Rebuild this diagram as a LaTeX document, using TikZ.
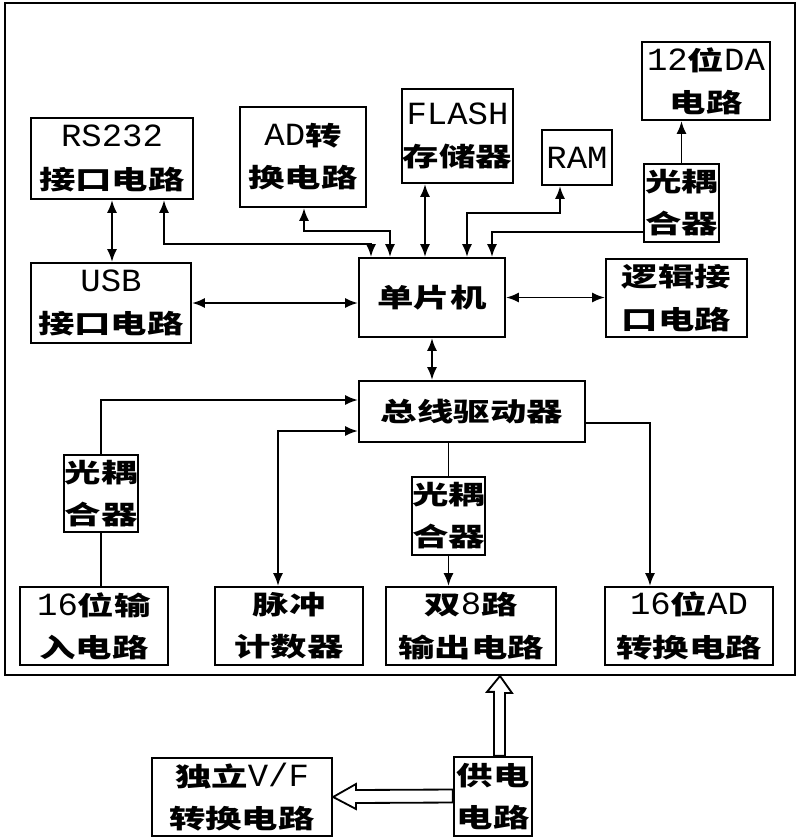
\documentclass[tikz,border=0pt]{standalone}
\usepackage{fontspec}
\newfontfamily\cjk{Noto Sans CJK SC}[FakeStretch=1.4]
\newfontfamily\latf{Liberation Mono}[FakeStretch=1.05]
\newcommand{\lat}{\latf\mdseries\fontsize{23}{30}\selectfont}
\usetikzlibrary{calc,arrows.meta}
\tikzset{
  >={Latex[length=9pt,width=7pt]},
  box/.style={draw,line width=1.6pt,fill=white,align=center,inner sep=0pt},
  link/.style={line width=1.2pt},
  hollow/.style={draw,line width=1.3pt,fill=white},
}
\tikzstyle{every node}=[font=\cjk\bfseries\fontsize{18.5}{30}\selectfont]
\newcommand{\bx}[6]{\node[box,minimum width=#4*0.025cm,minimum height=#5*0.025cm] (#1) at (#2,#3) {#6};}

\begin{document}
\begin{tikzpicture}[x=0.025cm,y=-0.025cm]
    \useasboundingbox (0,0) rectangle (800,838);
    \draw[line width=1.6pt] (5,3) rectangle (795,675);
    % top row
    \bx{da}{706}{81}{128}{78}{{\lat 12}位{\lat DA}\\电路}
    \bx{rs}{112}{158.5}{162}{81}{{\lat RS232}\\接口电路}
    \bx{adc}{303}{157}{126}{100}{{\lat AD}转\\换电路}
    \bx{flash}{457.5}{136}{111}{94}{{\lat FLASH}\\存储器}
    \bx{ram}{577}{157.5}{70}{55}{{\lat RAM}}
    \bx{oca}{681.5}{203}{75}{78}{光耦\\合器}
    % middle
    \bx{usb}{111}{303}{160}{80}{{\lat USB}\\接口电路}
    \bx{mcu}{432}{297.5}{146}{79}{单片机}
    \bx{logic}{676.5}{298}{141}{78}{逻辑接\\口电路}
    \bx{bus}{472}{411.5}{226}{61}{总线驱动器}
    \bx{ocb}{101}{493.5}{74}{77}{光耦\\合器}
    \bx{occ}{448.5}{516}{73}{78}{光耦\\合器}
    % bottom row
    \bx{inp}{94}{626}{148}{78}{{\lat 16}位输\\入电路}
    \bx{pulse}{289}{626}{148}{78}{脉冲\\计数器}
    \bx{outp}{471}{626}{170}{78}{双{\lat 8}路\\输出电路}
    \bx{adx}{689}{626}{168}{78}{{\lat 16}位{\lat AD}\\转换电路}
    % power
    \bx{vf}{242}{797}{180}{78}{独立{\lat V/F}\\转换电路}
    \bx{pwr}{493}{796.5}{78}{79}{供电\\电路}
    % links to the MCU
    \draw[link,<->] (rs.south) -- (rs.south |- usb.north);
    \draw[link,<->] ($(rs.south)+(52,0)$) -- ++(0,44) -| ($(mcu.north)+(-61,0)$);
    \draw[link,<->] ($(adc.south)+(1,0)$) -- ++(0,23) -| ($(mcu.north)+(-42,0)$);
    \draw[link,<->] ($(flash.south)+(-32.5,0)$) -- ($(mcu.north)+(-7,0)$);
    \draw[link,<->] ($(ram.south)+(-17,0)$) -- ++(0,27) -| ($(mcu.north)+(35,0)$);
    \draw[link,->] ($(oca.west)+(0,29)$) -| ($(mcu.north)+(60,0)$);
    \draw[link,->] (oca.north) -- (oca.north |- da.south);
    \draw[link,<->] (usb.east) -- (usb.east -| mcu.west);
    \draw[link,<->] (mcu.east) -- (mcu.east -| logic.west);
    \draw[link,<->] (mcu.south) -- (mcu.south |- bus.north);
    % links to the bus driver
    \draw[link] (ocb.south) -- (ocb.south |- inp.north);
    \draw[link,->] (ocb.north) |- ($(bus.west)+(0,-11.5)$);
    \draw[link,<->] ($(bus.west)+(0,19.5)$) -| ($(pulse.north)+(-11,0)$);
    \draw[link] (bus.south -| occ.north) -- (occ.north);
    \draw[link,->] (occ.south) -- (occ.south |- outp.north);
    \draw[link,->] ($(bus.east)+(0,11.5)$) -| ($(adx.north)+(-39,0)$);
    % hollow power arrows
    \path[hollow] ($(pwr.north)+(1,0)$) -- ++(0,-64) -- ++(-7,0) -- (500,676)
      -- (512,693) -- (505,693) -- ($(pwr.north)+(12,0)$) -- cycle;
    \path[hollow] ($(pwr.west)+(0,-7)$) -- (356,790) -- (356,784) -- (vf.east)
      -- (356,809) -- (356,803) -- ($(pwr.west)+(0,6)$) -- cycle;
\end{tikzpicture}
\end{document}
